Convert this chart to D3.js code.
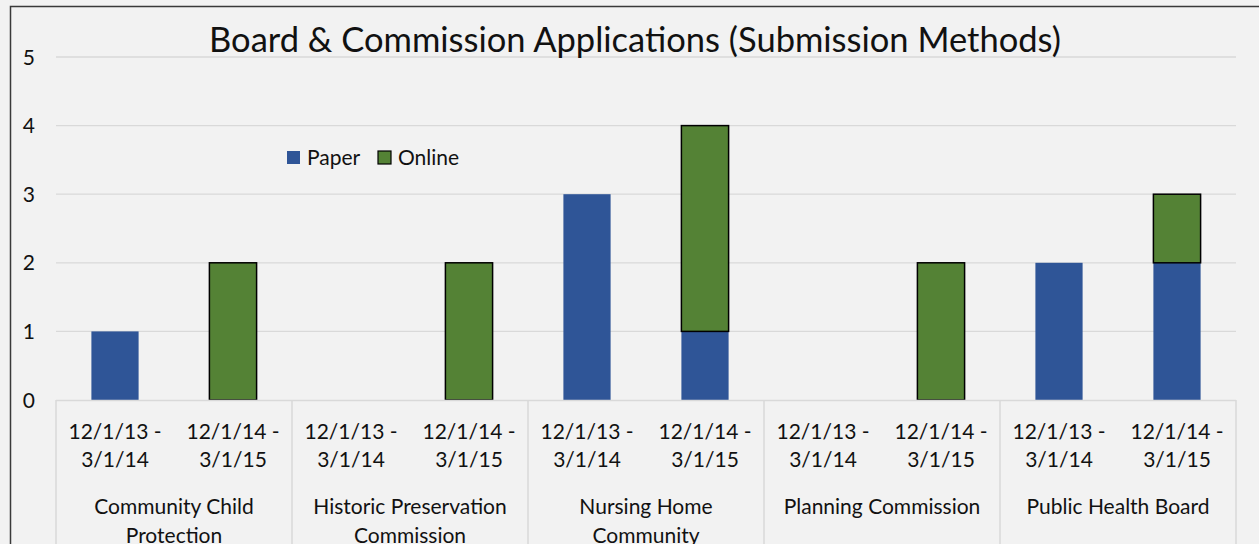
<!DOCTYPE html>
<html lang="en">
<head>
<meta charset="utf-8">
<script src="https://d3js.org/d3.v7.min.js"></script>
<style>
  body { margin: 0; background: #f2f2f2; overflow: hidden; }
  svg { display: block; font-family: Lato, "Open Sans", sans-serif; }
</style>
</head>
<body>
<div id="chart"></div>
<script>
// data
var categories = ["Community Child Protection", "Historic Preservation Commission",
                  "Nursing Home Community", "Planning Commission", "Public Health Board"];
var periods = ["12/1/13 - 3/1/14", "12/1/14 - 3/1/15"];
var seriesNames = ["Paper", "Online"];
// values per category, one per period
var paper  = [[1, 0], [0, 0], [3, 1], [0, 0], [2, 2]];
var online = [[0, 2], [0, 2], [0, 3], [0, 2], [0, 1]];
var yTicks = [0, 1, 2, 3, 4, 5];

var width = 1259, height = 544;
var colors = { Paper: "#2f5597", Online: "#548235" };

var svg = d3.select("#chart").append("svg")
    .attr("width", width)
    .attr("height", height);

svg.append("rect")
    .attr("width", width).attr("height", height)
    .attr("fill", "#f2f2f2");

// outer frame (left + top edges visible)
svg.append("path")
    .attr("d", "M10.5," + height + "V6.5H" + (width + 5))
    .attr("fill", "none")
    .attr("stroke", "#3a3a3a")
    .attr("stroke-width", 1.5);

var x0 = d3.scaleBand().domain(categories).range([56, 1236]);
var x1 = d3.scaleBand().domain(periods).range([0, x0.bandwidth()])
    .paddingInner(0.6).paddingOuter(0.3);
var y = d3.scaleLinear().domain([0, 5]).range([400, 57]);

// gridlines
svg.append("g").selectAll("line")
    .data(yTicks.filter(function(d) { return d > 0; }))
    .enter().append("line")
    .attr("x1", 56).attr("x2", 1236)
    .attr("y1", function(d) { return y(d); })
    .attr("y2", function(d) { return y(d); })
    .attr("stroke", "#d9d9d9")
    .attr("stroke-width", 1.3);

// y tick labels
svg.append("g").selectAll("text")
    .data(yTicks)
    .enter().append("text")
    .attr("x", 35)
    .attr("y", function(d) { return y(d); })
    .attr("dy", "0.36em")
    .attr("text-anchor", "end")
    .attr("font-size", 21)
    .attr("fill", "#111")
    .text(function(d) { return d; });

// stacked bars
var rows = [];
categories.forEach(function(c, i) {
    periods.forEach(function(p, j) {
        rows.push({ cat: c, period: p, Paper: paper[i][j], Online: online[i][j] });
    });
});
var stacked = d3.stack().keys(seriesNames)(rows);

var gBars = svg.append("g");
stacked.forEach(function(layer) {
    gBars.selectAll(null)
        .data(layer.filter(function(d) { return d[1] - d[0] > 0; }))
        .enter().append("rect")
        .attr("x", function(d) { return x0(d.data.cat) + x1(d.data.period); })
        .attr("y", function(d) { return y(d[1]); })
        .attr("width", x1.bandwidth())
        .attr("height", function(d) { return y(d[0]) - y(d[1]); })
        .attr("fill", colors[layer.key])
        .attr("stroke", layer.key === "Online" ? "#000" : "none")
        .attr("stroke-width", 1.5);
});

// category axis box
var axisColor = "#d9d9d9";
svg.append("line")
    .attr("x1", 56).attr("x2", 1236).attr("y1", 400.5).attr("y2", 400.5)
    .attr("stroke", axisColor).attr("stroke-width", 1.5);
var bounds = categories.map(function(c) { return x0(c); }).concat([x0.range()[1]]);
svg.append("g").selectAll("line")
    .data(bounds)
    .enter().append("line")
    .attr("x1", function(d) { return d; }).attr("x2", function(d) { return d; })
    .attr("y1", 400).attr("y2", height)
    .attr("stroke", axisColor).attr("stroke-width", 1.5);

// period labels
var gP = svg.append("g").attr("font-size", 21).attr("fill", "#111").attr("text-anchor", "middle");
categories.forEach(function(c) {
    periods.forEach(function(p) {
        var parts = p.split(" - ");
        var cx = x0(c) + x1(p) + x1.bandwidth() / 2;
        gP.append("text").attr("x", cx).attr("y", 439).text(parts[0] + " -");
        gP.append("text").attr("x", cx).attr("y", 467).text(parts[1]);
    });
});

// category labels, wrapped to band width
var gC = svg.append("g").attr("font-size", 21).attr("fill", "#111").attr("text-anchor", "middle");
categories.forEach(function(c) {
    var cx = x0(c) + x0.bandwidth() / 2;
    var words = c.split(" "), lines = [], line = [];
    var t = gC.append("text").attr("x", cx).attr("y", 514);
    words.forEach(function(w) {
        line.push(w);
        t.text(line.join(" "));
        if (t.node().getComputedTextLength() > x0.bandwidth() - 16 && line.length > 1) {
            line.pop();
            lines.push(line.join(" "));
            line = [w];
        }
    });
    lines.push(line.join(" "));
    t.text(lines[0]);
    for (var k = 1; k < lines.length; k++) {
        gC.append("text").attr("x", cx).attr("y", 514 + 29 * k).text(lines[k]);
    }
});

// title
svg.append("text")
    .attr("x", 635).attr("y", 52)
    .attr("text-anchor", "middle")
    .attr("font-size", 34.5)
    .attr("fill", "#111")
    .text("Board & Commission Applications (Submission Methods)");

// legend
var legendX = [287, 378];
var gL = svg.append("g");
seriesNames.forEach(function(s, i) {
    gL.append("rect")
        .attr("x", legendX[i]).attr("y", 151)
        .attr("width", 13).attr("height", 13)
        .attr("fill", colors[s])
        .attr("stroke", s === "Online" ? "#000" : "none")
        .attr("stroke-width", 1.2);
    gL.append("text")
        .attr("x", legendX[i] + 20).attr("y", 165)
        .attr("font-size", 21)
        .attr("fill", "#111")
        .text(s);
});
</script>
</body>
</html>
